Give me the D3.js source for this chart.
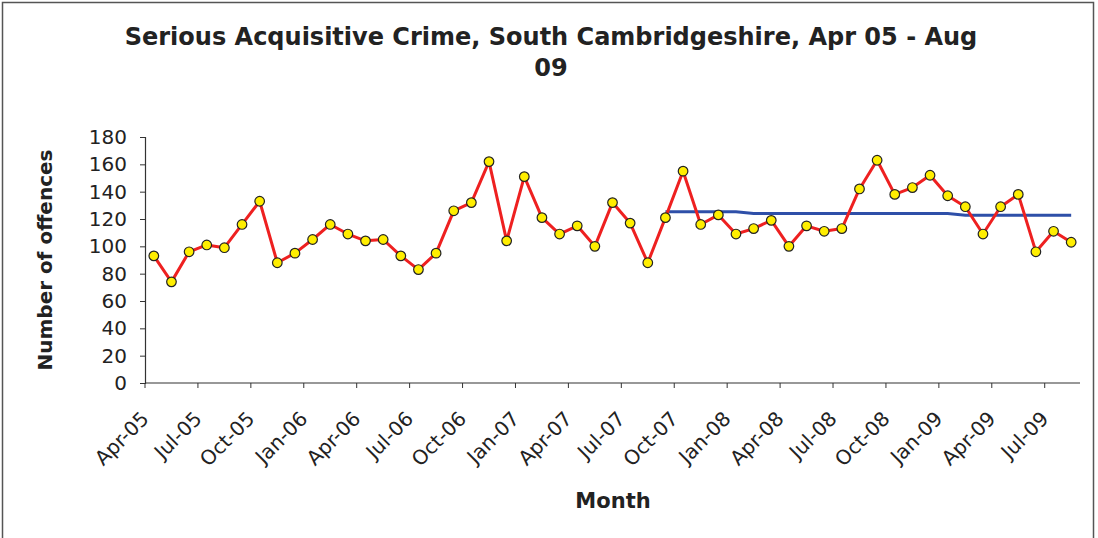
<!DOCTYPE html>
<html><head><meta charset="utf-8">
<script src="https://cdn.jsdelivr.net/npm/d3@7"></script>
<style>body{margin:0;background:#fff}svg{display:block}</style>
</head><body>
<script>
const months = ["Apr-05","May-05","Jun-05","Jul-05","Aug-05","Sep-05","Oct-05","Nov-05","Dec-05","Jan-06","Feb-06","Mar-06",
"Apr-06","May-06","Jun-06","Jul-06","Aug-06","Sep-06","Oct-06","Nov-06","Dec-06","Jan-07","Feb-07","Mar-07",
"Apr-07","May-07","Jun-07","Jul-07","Aug-07","Sep-07","Oct-07","Nov-07","Dec-07","Jan-08","Feb-08","Mar-08",
"Apr-08","May-08","Jun-08","Jul-08","Aug-08","Sep-08","Oct-08","Nov-08","Dec-08","Jan-09","Feb-09","Mar-09",
"Apr-09","May-09","Jun-09","Jul-09","Aug-09"];
const offences = [93,74,96,101,99,116,133,88,95,105,116,109,104,105,93,83,
95,126,132,162,104,151,121,109,115,100,132,117,88,121,155,116,123,109,113,119,100,115,111,113,142,163,138,143,152,137,129,109,129,138,96,111,103];
const trend = [null,null,null,null,null,null,null,null,null,null,null,null,null,null,null,null,null,null,null,null,null,null,null,null,null,null,null,null,null,
125.3,125.3,125.3,125.3,125.3,124,124,124,124,124,124,124,124,124,124,124,124,122.8,122.8,122.8,122.8,122.8,122.8,122.8];
const yTicks = [0,20,40,60,80,100,120,140,160,180];
const titleLines = ["Serious Acquisitive Crime, South Cambridgeshire, Apr 05 - Aug","09"];
const yTitle = "Number of offences";
const xTitle = "Month";

const W = 1098, H = 538;
const svg = d3.select("body").append("svg").attr("width", W).attr("height", H);
svg.append("rect").attr("x",2.5).attr("y",2.5).attr("width",1091).attr("height",H+5)
  .attr("fill","#fff").attr("stroke","#555").attr("stroke-width",1.5);

const font = "'DejaVu Sans', Verdana, sans-serif";
const x = d3.scaleBand().domain(d3.range(months.length)).range([145,1080]).paddingInner(0).paddingOuter(0);
const y = d3.scaleLinear().domain([0,180]).range([383,137]);
const cx = i => x(i) + x.bandwidth()/2;

// title
svg.append("g").selectAll("text").data(titleLines).join("text")
  .attr("x", 551).attr("y",(d,i)=>45+i*31).attr("text-anchor","middle")
  .attr("font-family",font).attr("font-weight","bold").attr("font-size",24).attr("fill","#222")
  .text(d=>d);

// y axis
const yAxis = svg.append("g").attr("transform","translate(145,0)")
  .call(d3.axisLeft(y).tickValues(yTicks).tickSize(5).tickPadding(13));
yAxis.select(".domain").attr("stroke","#333").attr("stroke-width",1.2);
yAxis.selectAll(".tick line").attr("stroke","#333");
yAxis.selectAll("text").attr("font-family",font).attr("font-size",20).attr("fill","#222");

// x axis
const tickIdx = d3.range(0, months.length, 3);
const xg = svg.append("g").attr("transform","translate(0,383)");
xg.append("line").attr("x1",145).attr("x2",1080).attr("y1",0).attr("y2",0).attr("stroke","#333").attr("stroke-width",1.2);
xg.selectAll("line.tk").data(tickIdx).join("line").attr("class","tk")
  .attr("x1",i=>x(i)).attr("x2",i=>x(i)).attr("y1",0).attr("y2",5).attr("stroke","#333");
xg.selectAll("text").data(tickIdx).join("text")
  .attr("transform",i=>`translate(${x(i)},${32}) rotate(-45)`)
  .attr("text-anchor","end").attr("dy","0.35em")
  .attr("font-family",font).attr("font-size",20).attr("fill","#222")
  .text(i=>months[i]);

// axis titles
svg.append("text").attr("transform","translate(52,260) rotate(-90)").attr("text-anchor","middle")
  .attr("font-family",font).attr("font-weight","bold").attr("font-size",20).attr("fill","#222").text(yTitle);
svg.append("text").attr("x",613).attr("y",508).attr("text-anchor","middle")
  .attr("font-family",font).attr("font-weight","bold").attr("font-size",21).attr("fill","#222").text(xTitle);

// trend line
const tl = d3.line().defined(d=>d!=null).x((d,i)=>cx(i)).y(d=>y(d));
svg.append("path").attr("d",tl(trend)).attr("fill","none").attr("stroke","#2E4FA8").attr("stroke-width",3);

// data line
const line = d3.line().x((d,i)=>cx(i)).y(d=>y(d));
svg.append("path").attr("d",line(offences)).attr("fill","none").attr("stroke","#EE2020").attr("stroke-width",3).attr("stroke-linejoin","round");
svg.append("g").selectAll("circle").data(offences).join("circle")
  .attr("cx",(d,i)=>cx(i)).attr("cy",d=>y(d)).attr("r",4.8)
  .attr("fill","#FFEE00").attr("stroke","#222").attr("stroke-width",1.2);
</script>
</body></html>
